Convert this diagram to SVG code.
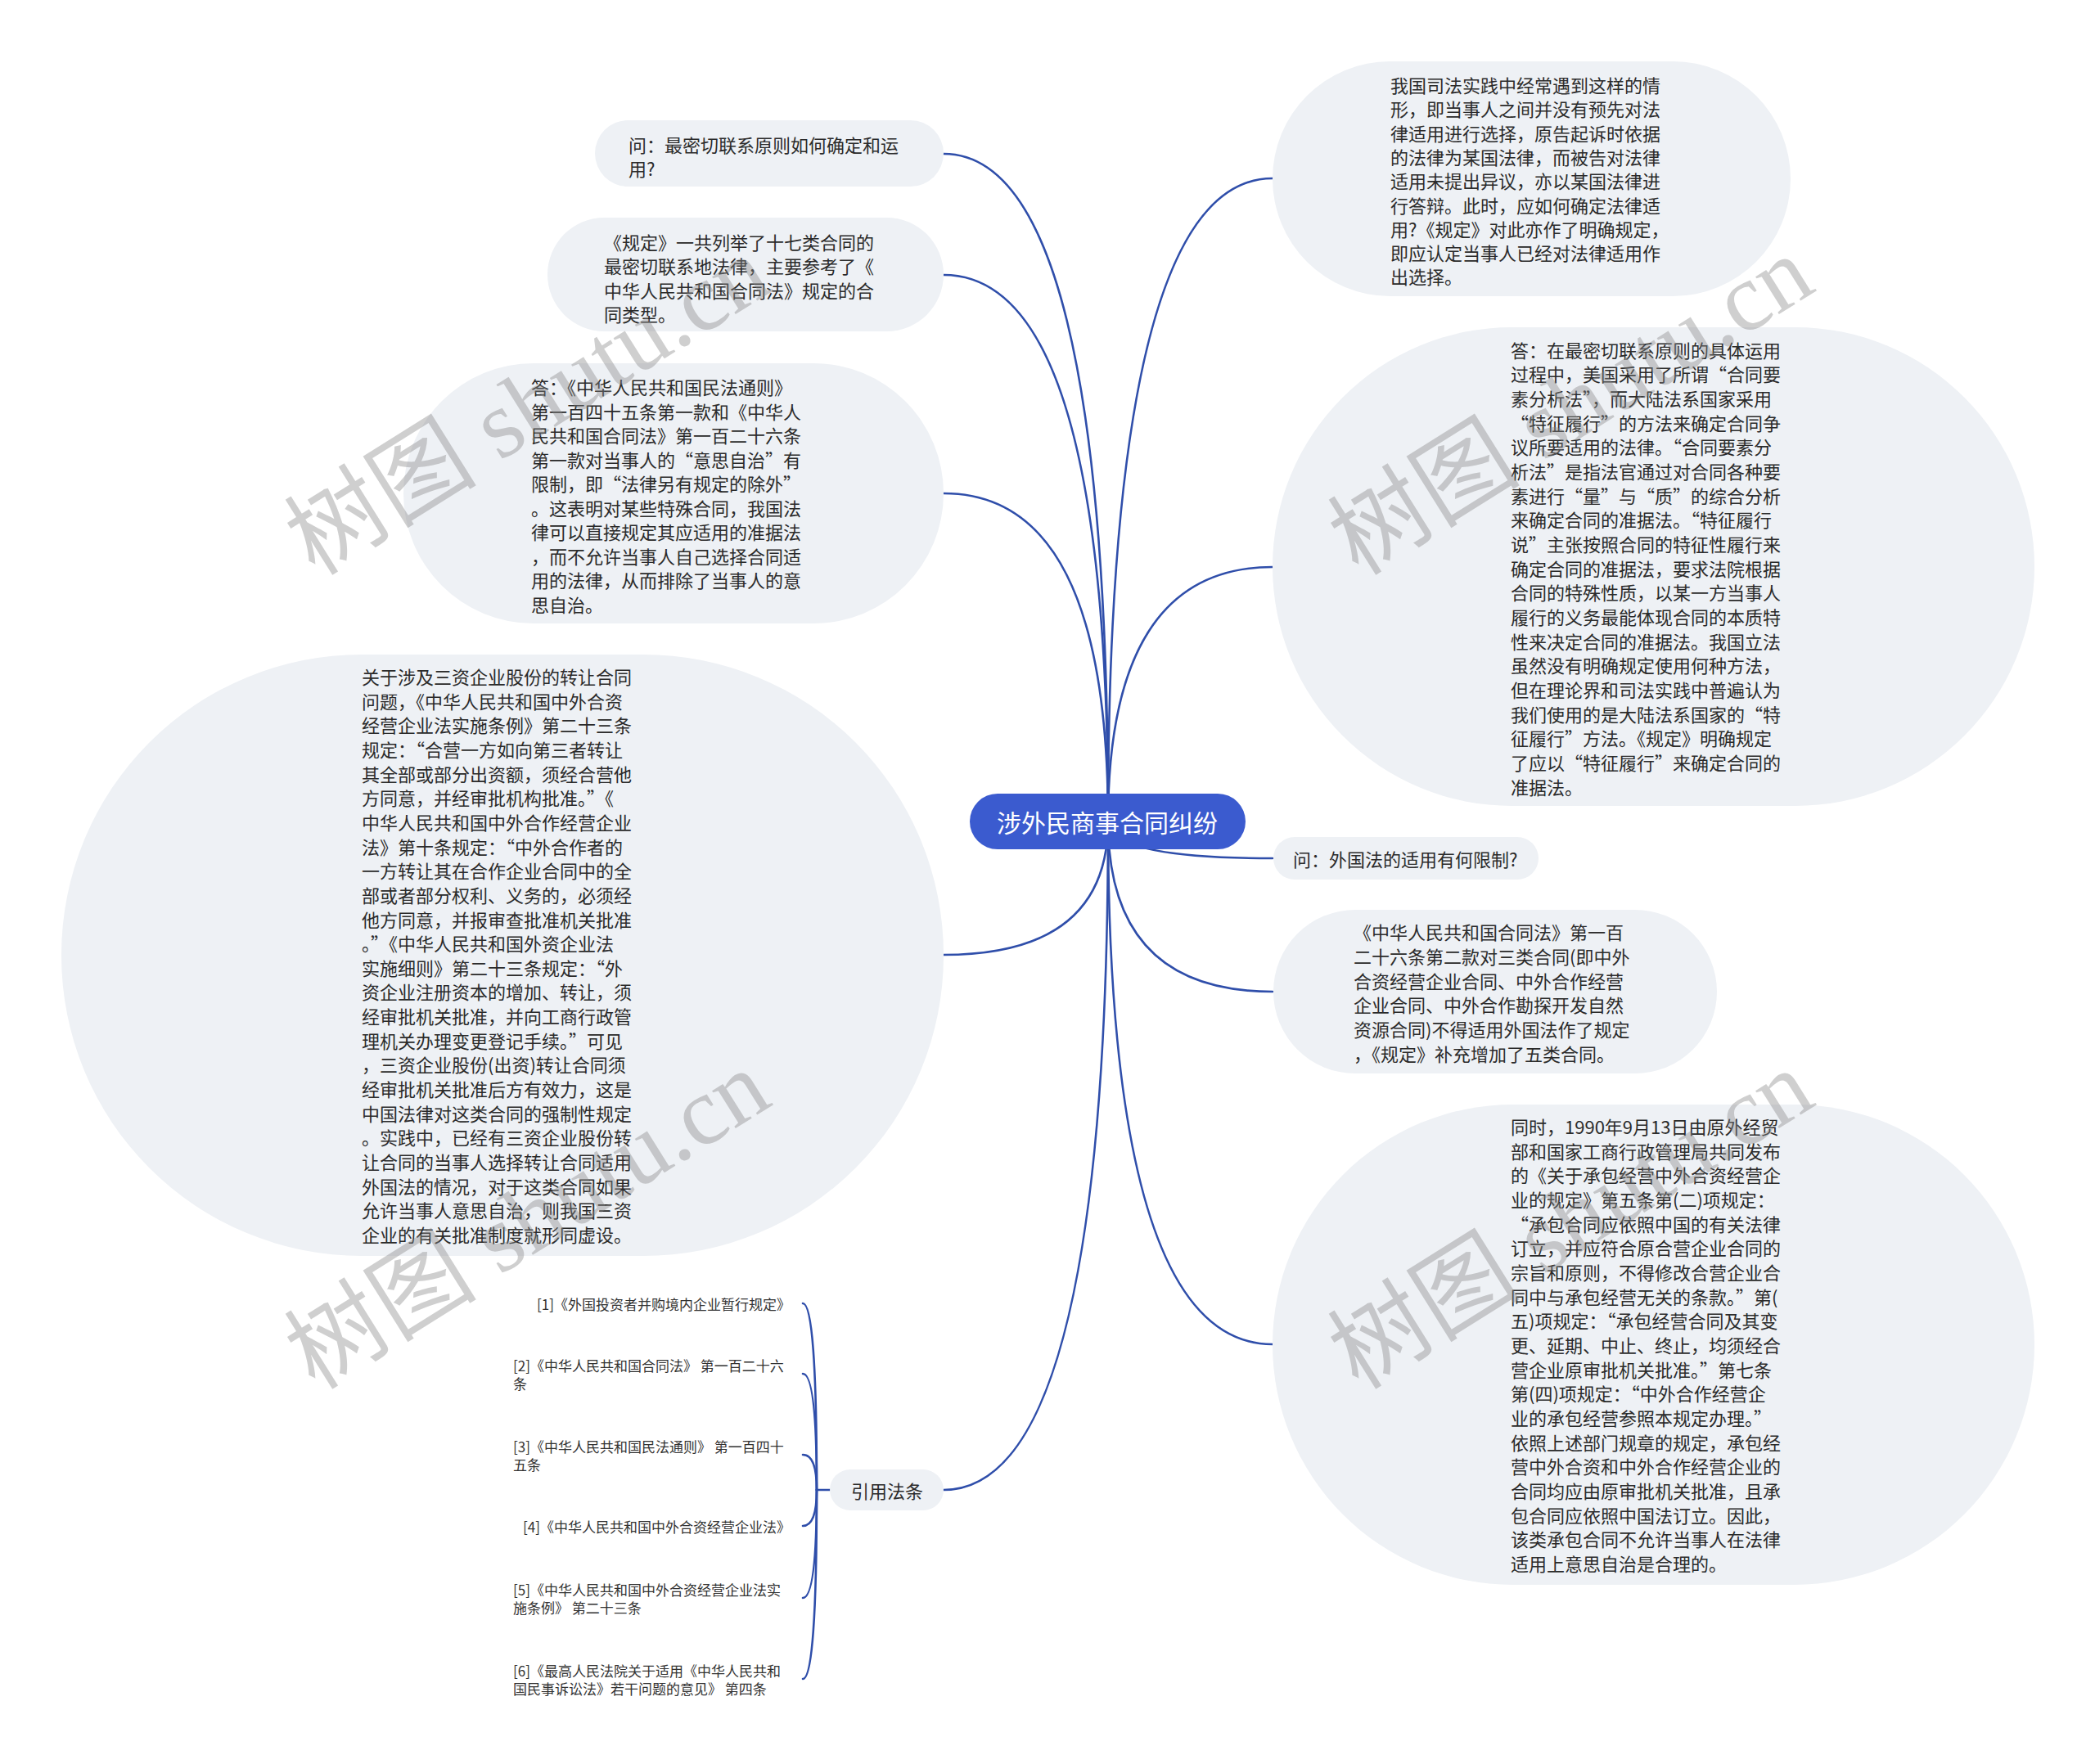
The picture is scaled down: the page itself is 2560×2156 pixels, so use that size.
<svg xmlns="http://www.w3.org/2000/svg" width="2560" height="2156" viewBox="0 0 2560 2156">
<style>
.bg{fill:#ffffff}
.box{fill:#eef1f5}
.root{fill:#3b5bcf}
.t{font-family:"Noto Sans CJK SC","Microsoft YaHei",sans-serif;font-size:22px;fill:#2b2b2b;dominant-baseline:central}
.rt{font-family:"Noto Sans CJK SC",sans-serif;font-size:30px;fill:#ffffff;dominant-baseline:central;text-anchor:middle}
.ref{font-family:"Noto Sans CJK SC",sans-serif;font-size:17px;fill:#333333;dominant-baseline:central}
.ln{fill:none;stroke:#2f4eaa;stroke-width:2.6;stroke-linecap:round}
.wm{font-family:"Liberation Serif","Noto Sans CJK SC",serif;font-size:118px;fill:#888888;fill-opacity:0.4}
</style>
<rect class="bg" x="0" y="0" width="2560" height="2156"/>

<g id="connectors">
<path class="ln" d="M1354 1004 Q1354 188 1153 188"/>
<path class="ln" d="M1354 1004 Q1354 336 1153 336"/>
<path class="ln" d="M1354 1004 Q1354 603 1153 603"/>
<path class="ln" d="M1354 1004 Q1354 1167 1153 1167"/>
<path class="ln" d="M1354 1004 Q1354 1821 1153 1821"/>
<path class="ln" d="M1354 1004 Q1354 218 1555 218"/>
<path class="ln" d="M1354 1004 Q1354 693 1555 693"/>
<path class="ln" d="M1354 1004 Q1354 1049 1555 1049"/>
<path class="ln" d="M1354 1004 Q1354 1212 1555 1212"/>
<path class="ln" d="M1354 1004 Q1354 1643 1555 1643"/>
<path class="ln" d="M1014 1821 H998"/>
<path class="ln" d="M998 1821 Q998 1593 981 1593"/>
<path class="ln" d="M998 1821 Q998 1679 981 1679"/>
<path class="ln" d="M998 1821 Q998 1778 981 1778"/>
<path class="ln" d="M998 1821 Q998 1865 981 1865"/>
<path class="ln" d="M998 1821 Q998 1953 981 1953"/>
<path class="ln" d="M998 1821 Q998 2052 981 2052"/>
</g>

<g id="root">
<rect class="root" x="1185" y="970" width="337" height="68" rx="34"/>
<text class="rt" x="1353" y="1004">涉外民商事合同纠纷</text>
</g>

<g id="node-a">
<rect class="box" x="727" y="147" width="426" height="81" rx="40.5"/>
<text class="t"><tspan x="768" y="175.5">问：最密切联系原则如何确定和运</tspan><tspan x="768" dy="29.5">用?</tspan></text>
</g>

<g id="node-b">
<rect class="box" x="669" y="266" width="484" height="139" rx="69.5"/>
<text class="t"><tspan x="738" y="294.5">《规定》一共列举了十七类合同的</tspan><tspan x="738" dy="29.5">最密切联系地法律，主要参考了《</tspan><tspan x="738" dy="29.5">中华人民共和国合同法》规定的合</tspan><tspan x="738" dy="29.5">同类型。</tspan></text>
</g>

<g id="node-c">
<rect class="box" x="493" y="444" width="660" height="318" rx="159"/>
<text class="t"><tspan x="649" y="472">答：《中华人民共和国民法通则》</tspan><tspan x="649" dy="29.5">第一百四十五条第一款和《中华人</tspan><tspan x="649" dy="29.5">民共和国合同法》第一百二十六条</tspan><tspan x="649" dy="29.5">第一款对当事人的“意思自治”有</tspan><tspan x="649" dy="29.5">限制，即“法律另有规定的除外”</tspan><tspan x="649" dy="29.5">。这表明对某些特殊合同，我国法</tspan><tspan x="649" dy="29.5">律可以直接规定其应适用的准据法</tspan><tspan x="649" dy="29.5">，而不允许当事人自己选择合同适</tspan><tspan x="649" dy="29.5">用的法律，从而排除了当事人的意</tspan><tspan x="649" dy="29.5">思自治。</tspan></text>
</g>

<g id="node-d">
<rect class="box" x="75" y="800" width="1078" height="735" rx="367"/>
<text class="t"><tspan x="442" y="826">关于涉及三资企业股份的转让合同</tspan><tspan x="442" dy="29.65">问题，《中华人民共和国中外合资</tspan><tspan x="442" dy="29.65">经营企业法实施条例》第二十三条</tspan><tspan x="442" dy="29.65">规定：“合营一方如向第三者转让</tspan><tspan x="442" dy="29.65">其全部或部分出资额，须经合营他</tspan><tspan x="442" dy="29.65">方同意，并经审批机构批准。”《</tspan><tspan x="442" dy="29.65">中华人民共和国中外合作经营企业</tspan><tspan x="442" dy="29.65">法》第十条规定：“中外合作者的</tspan><tspan x="442" dy="29.65">一方转让其在合作企业合同中的全</tspan><tspan x="442" dy="29.65">部或者部分权利、义务的，必须经</tspan><tspan x="442" dy="29.65">他方同意，并报审查批准机关批准</tspan><tspan x="442" dy="29.65">。”《中华人民共和国外资企业法</tspan><tspan x="442" dy="29.65">实施细则》第二十三条规定：“外</tspan><tspan x="442" dy="29.65">资企业注册资本的增加、转让，须</tspan><tspan x="442" dy="29.65">经审批机关批准，并向工商行政管</tspan><tspan x="442" dy="29.65">理机关办理变更登记手续。”可见</tspan><tspan x="442" dy="29.65">，三资企业股份(出资)转让合同须</tspan><tspan x="442" dy="29.65">经审批机关批准后方有效力，这是</tspan><tspan x="442" dy="29.65">中国法律对这类合同的强制性规定</tspan><tspan x="442" dy="29.65">。实践中，已经有三资企业股份转</tspan><tspan x="442" dy="29.65">让合同的当事人选择转让合同适用</tspan><tspan x="442" dy="29.65">外国法的情况，对于这类合同如果</tspan><tspan x="442" dy="29.65">允许当事人意思自治，则我国三资</tspan><tspan x="442" dy="29.65">企业的有关批准制度就形同虚设。</tspan></text>
</g>

<g id="node-f">
<rect class="box" x="1555" y="75" width="633" height="287" rx="143.5"/>
<text class="t"><tspan x="1699" y="103">我国司法实践中经常遇到这样的情</tspan><tspan x="1699" dy="29.3">形，即当事人之间并没有预先对法</tspan><tspan x="1699" dy="29.3">律适用进行选择，原告起诉时依据</tspan><tspan x="1699" dy="29.3">的法律为某国法律，而被告对法律</tspan><tspan x="1699" dy="29.3">适用未提出异议，亦以某国法律进</tspan><tspan x="1699" dy="29.3">行答辩。此时，应如何确定法律适</tspan><tspan x="1699" dy="29.3">用?《规定》对此亦作了明确规定，</tspan><tspan x="1699" dy="29.3">即应认定当事人已经对法律适用作</tspan><tspan x="1699" dy="29.3">出选择。</tspan></text>
</g>

<g id="node-e">
<rect class="box" x="1555" y="400" width="931" height="585" rx="292.5"/>
<text class="t"><tspan x="1846" y="426.5">答：在最密切联系原则的具体运用</tspan><tspan x="1846" dy="29.67">过程中，美国采用了所谓“合同要</tspan><tspan x="1846" dy="29.67">素分析法”，而大陆法系国家采用</tspan><tspan x="1846" dy="29.67">“特征履行”的方法来确定合同争</tspan><tspan x="1846" dy="29.67">议所要适用的法律。“合同要素分</tspan><tspan x="1846" dy="29.67">析法”是指法官通过对合同各种要</tspan><tspan x="1846" dy="29.67">素进行“量”与“质”的综合分析</tspan><tspan x="1846" dy="29.67">来确定合同的准据法。“特征履行</tspan><tspan x="1846" dy="29.67">说”主张按照合同的特征性履行来</tspan><tspan x="1846" dy="29.67">确定合同的准据法，要求法院根据</tspan><tspan x="1846" dy="29.67">合同的特殊性质，以某一方当事人</tspan><tspan x="1846" dy="29.67">履行的义务最能体现合同的本质特</tspan><tspan x="1846" dy="29.67">性来决定合同的准据法。我国立法</tspan><tspan x="1846" dy="29.67">虽然没有明确规定使用何种方法，</tspan><tspan x="1846" dy="29.67">但在理论界和司法实践中普遍认为</tspan><tspan x="1846" dy="29.67">我们使用的是大陆法系国家的“特</tspan><tspan x="1846" dy="29.67">征履行”方法。《规定》明确规定</tspan><tspan x="1846" dy="29.67">了应以“特征履行”来确定合同的</tspan><tspan x="1846" dy="29.67">准据法。</tspan></text>
</g>

<g id="node-g">
<rect class="box" x="1556" y="1023" width="324" height="52" rx="26"/>
<text class="t" x="1580" y="1049">问：外国法的适用有何限制?</text>
</g>

<g id="node-h">
<rect class="box" x="1556" y="1112" width="542" height="200" rx="100"/>
<text class="t"><tspan x="1654" y="1138">《中华人民共和国合同法》第一百</tspan><tspan x="1654" dy="29.8">二十六条第二款对三类合同(即中外</tspan><tspan x="1654" dy="29.8">合资经营企业合同、中外合作经营</tspan><tspan x="1654" dy="29.8">企业合同、中外合作勘探开发自然</tspan><tspan x="1654" dy="29.8">资源合同)不得适用外国法作了规定</tspan><tspan x="1654" dy="29.8">，《规定》补充增加了五类合同。</tspan></text>
</g>

<g id="node-i">
<rect class="box" x="1555" y="1350" width="931" height="587" rx="293.5"/>
<text class="t"><tspan x="1846" y="1376">同时，1990年9月13日由原外经贸</tspan><tspan x="1846" dy="29.67">部和国家工商行政管理局共同发布</tspan><tspan x="1846" dy="29.67">的《关于承包经营中外合资经营企</tspan><tspan x="1846" dy="29.67">业的规定》第五条第(二)项规定：</tspan><tspan x="1846" dy="29.67">“承包合同应依照中国的有关法律</tspan><tspan x="1846" dy="29.67">订立，并应符合原合营企业合同的</tspan><tspan x="1846" dy="29.67">宗旨和原则，不得修改合营企业合</tspan><tspan x="1846" dy="29.67">同中与承包经营无关的条款。”第(</tspan><tspan x="1846" dy="29.67">五)项规定：“承包经营合同及其变</tspan><tspan x="1846" dy="29.67">更、延期、中止、终止，均须经合</tspan><tspan x="1846" dy="29.67">营企业原审批机关批准。”第七条</tspan><tspan x="1846" dy="29.67">第(四)项规定：“中外合作经营企</tspan><tspan x="1846" dy="29.67">业的承包经营参照本规定办理。”</tspan><tspan x="1846" dy="29.67">依照上述部门规章的规定，承包经</tspan><tspan x="1846" dy="29.67">营中外合资和中外合作经营企业的</tspan><tspan x="1846" dy="29.67">合同均应由原审批机关批准，且承</tspan><tspan x="1846" dy="29.67">包合同应依照中国法订立。因此，</tspan><tspan x="1846" dy="29.67">该类承包合同不允许当事人在法律</tspan><tspan x="1846" dy="29.67">适用上意思自治是合理的。</tspan></text>
</g>

<g id="node-j">
<rect class="box" x="1014" y="1796" width="139" height="50" rx="25"/>
<text class="t" x="1084" y="1821" text-anchor="middle">引用法条</text>
</g>

<g id="ref-1"><text class="ref" x="966" y="1593" text-anchor="end">[1]《外国投资者并购境内企业暂行规定》</text></g>
<g id="ref-2"><text class="ref"><tspan x="627" y="1668">[2]《中华人民共和国合同法》 第一百二十六</tspan><tspan x="627" dy="22">条</tspan></text></g>
<g id="ref-3"><text class="ref"><tspan x="627" y="1767">[3]《中华人民共和国民法通则》 第一百四十</tspan><tspan x="627" dy="22">五条</tspan></text></g>
<g id="ref-4"><text class="ref" x="966" y="1865" text-anchor="end">[4]《中华人民共和国中外合资经营企业法》</text></g>
<g id="ref-5"><text class="ref"><tspan x="627" y="1942">[5]《中华人民共和国中外合资经营企业法实</tspan><tspan x="627" dy="22">施条例》 第二十三条</tspan></text></g>
<g id="ref-6"><text class="ref"><tspan x="627" y="2041">[6]《最高人民法院关于适用《中华人民共和</tspan><tspan x="627" dy="22">国民事诉讼法》若干问题的意见》 第四条</tspan></text></g>

<g id="watermarks">
<text class="wm" x="385" y="705" transform="rotate(-32 385 705)">树图 shutu.cn</text>
<text class="wm" x="1660" y="705" transform="rotate(-32 1660 705)">树图 shutu.cn</text>
<text class="wm" x="385" y="1700" transform="rotate(-32 385 1700)">树图 shutu.cn</text>
<text class="wm" x="1660" y="1700" transform="rotate(-32 1660 1700)">树图 shutu.cn</text>
</g>
</svg>
